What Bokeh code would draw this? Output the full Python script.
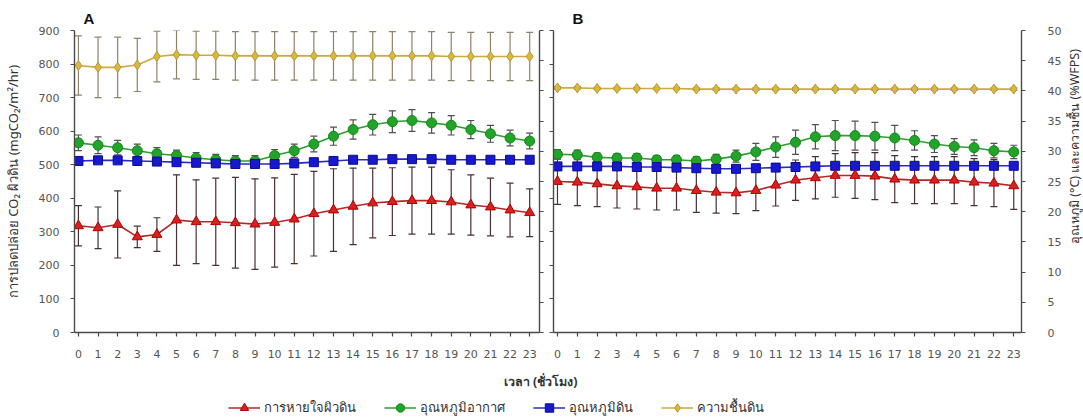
import math
from bokeh.plotting import figure
from bokeh.models import (Range1d, LinearAxis, FixedTicker, Whisker, TeeHead,
                          ColumnDataSource, Label, Legend, LegendItem)
from bokeh.layouts import column, row
from bokeh.embed import file_html
from bokeh.resources import INLINE

# ---------------- data ----------------
hours = list(range(24))
hour_ticks = list(range(24))
co2_ticks = [0, 100, 200, 300, 400, 500, 600, 700, 800, 900]
temp_ticks = [0, 5, 10, 15, 20, 25, 30, 35, 40, 45, 50]

series_names = ["การหายใจผิวดิน", "อุณหภูมิอากาศ", "อุณหภูมิดิน", "ความชื้นดิน"]
y_title_left = "การปลดปล่อย CO₂ ผิวดิน (mgCO₂/m²/hr)"
y_title_right = "อุณหภูมิ (°C) และความชื้น (%WFPS)"
x_title = "เวลา (ชั่วโมง)"

# Panel A
a_resp = [318, 312, 322, 285, 292, 335, 330, 330, 327, 323, 328, 338,
          354, 365, 376, 386, 390, 393, 393, 389, 380, 374, 365, 357]
a_resp_err = [60, 62, 100, 32, 50, 135, 125, 130, 135, 135, 133, 133,
              126, 123, 114, 104, 101, 100, 100, 96, 90, 86, 80, 71]
a_air = [31.4, 31.0, 30.6, 30.1, 29.6, 29.3, 28.9, 28.6, 28.4, 28.4, 29.3, 30.1,
         31.2, 32.5, 33.6, 34.4, 34.9, 35.1, 34.7, 34.3, 33.6, 32.9, 32.2, 31.7]
a_air_err = [1.3, 1.4, 1.2, 1.1, 1.0, 0.9, 0.9, 0.9, 0.9, 0.9, 1.0, 1.1,
             1.3, 1.5, 1.6, 1.7, 1.8, 1.8, 1.7, 1.6, 1.5, 1.4, 1.3, 1.3]
a_soil = [28.4, 28.5, 28.5, 28.4, 28.3, 28.2, 28.1, 28.0, 27.9, 27.9, 27.9, 28.0,
          28.2, 28.4, 28.6, 28.6, 28.7, 28.7, 28.7, 28.6, 28.6, 28.6, 28.6, 28.6]
a_soil_err = [0.3, 0.3, 0.3, 0.3, 0.3, 0.3, 0.3, 0.3, 0.3, 0.3, 0.3, 0.3,
              0.3, 0.3, 0.3, 0.3, 0.3, 0.3, 0.3, 0.3, 0.3, 0.3, 0.3, 0.3]
a_moist = [44.2, 43.9, 43.9, 44.3, 45.7, 46.0, 45.9, 45.9, 45.8, 45.8, 45.8, 45.8,
           45.8, 45.8, 45.8, 45.8, 45.8, 45.8, 45.8, 45.7, 45.7, 45.7, 45.7, 45.7]
a_moist_err = [4.9, 5.0, 5.0, 4.4, 4.2, 4.0, 4.0, 4.0, 4.0, 4.0, 4.0, 4.0,
               4.0, 4.0, 4.0, 4.0, 4.0, 4.0, 4.0, 4.0, 4.0, 4.0, 4.0, 4.0]

# Panel B
b_resp = [450, 448, 443, 437, 434, 430, 430, 423, 418, 416, 423, 439,
          454, 461, 468, 468, 466, 457, 454, 454, 454, 448, 445, 437]
b_resp_err = [68, 70, 68, 66, 66, 65, 65, 65, 62, 62, 60, 62,
              60, 63, 65, 68, 70, 70, 70, 70, 70, 70, 70, 70]
b_air = [29.5, 29.4, 29.0, 28.9, 28.9, 28.6, 28.6, 28.4, 28.7, 29.2, 29.9, 30.7,
         31.5, 32.4, 32.6, 32.6, 32.5, 32.2, 31.8, 31.2, 30.8, 30.6, 30.1, 29.9]
b_air_err = [0.8, 0.8, 0.7, 0.7, 0.7, 0.7, 0.7, 0.7, 0.8, 1.0, 1.4, 1.7,
             2.0, 2.0, 2.5, 2.4, 2.3, 2.1, 1.6, 1.4, 1.3, 1.3, 1.2, 1.1]
b_soil = [27.5, 27.5, 27.5, 27.5, 27.4, 27.4, 27.3, 27.2, 27.1, 27.1, 27.2, 27.3,
          27.4, 27.5, 27.6, 27.6, 27.6, 27.6, 27.6, 27.6, 27.6, 27.6, 27.6, 27.6]
b_soil_err = [0.5, 0.5, 0.5, 0.5, 0.5, 0.5, 0.5, 0.5, 0.5, 0.5, 0.5, 0.5,
              0.5, 0.5, 0.5, 0.5, 0.5, 0.5, 0.5, 0.5, 0.5, 0.5, 0.5, 0.5]
b_moist = [40.5, 40.5, 40.4, 40.4, 40.4, 40.4, 40.4, 40.3, 40.3, 40.3, 40.3, 40.3,
           40.3, 40.3, 40.3, 40.3, 40.3, 40.3, 40.3, 40.3, 40.3, 40.3, 40.3, 40.3]
b_moist_err = [0.2, 0.2, 0.2, 0.2, 0.2, 0.2, 0.2, 0.2, 0.2, 0.2, 0.2, 0.2,
               0.2, 0.2, 0.2, 0.2, 0.2, 0.2, 0.2, 0.2, 0.2, 0.2, 0.2, 0.2]

# ---------------- styles ----------------
STY = {
    "resp": dict(fill="#D92020", edge="#B00000", line="#B52828", bar="#4A3030", marker="triangle", size=10),
    "air": dict(fill="#22A32A", edge="#118818", line="#2E9E32", bar="#505050", marker="circle", size=10),
    "soil": dict(fill="#1818CC", edge="#0A0A9A", line="#2A2AC0", bar="#404040", marker="square", size=9),
    "moist": dict(fill="#D9B842", edge="#B89A2A", line="#CBAA3E", bar="#8C8468", marker="diamond", size=10),
}
AX = "#4a4a4a"
TICK_FONT = "DejaVu Sans"
THAI_FONT = "Noto Sans"

FRAME_H = 302
TOP = 30
BOTTOM = 34
FIG_H = TOP + FRAME_H + BOTTOM


def style_axis(ax, show_labels=True, standoff=6, ticks=None):
    ax.axis_line_color = AX
    ax.axis_line_width = 1.4
    ax.major_tick_line_color = AX
    ax.major_tick_line_width = 1.2
    ax.major_tick_in = 0
    ax.major_tick_out = 4
    ax.minor_tick_line_color = None
    ax.major_label_text_font = TICK_FONT
    ax.major_label_text_color = "#555555"
    ax.major_label_text_font_size = "11px"
    ax.major_label_standoff = standoff
    ax.axis_label_text_font = THAI_FONT
    ax.axis_label_text_font_style = "normal"
    ax.axis_label_text_font_size = "13px"
    ax.axis_label_text_color = "#333333"
    if not show_labels:
        ax.major_label_overrides = {t: "" for t in ticks}
        ax.major_label_standoff = 0


def add_series(fig, y, err, key, range_name):
    s = STY[key]
    src = ColumnDataSource(dict(x=hours, y=y,
                                upper=[v + e for v, e in zip(y, err)],
                                lower=[v - e for v, e in zip(y, err)]))
    w = Whisker(source=src, base="x", upper="upper", lower="lower",
                line_color=s["bar"], line_width=1.2,
                upper_head=TeeHead(size=7, line_color=s["bar"], line_width=1.2),
                lower_head=TeeHead(size=7, line_color=s["bar"], line_width=1.2),
                y_range_name=range_name)
    fig.add_layout(w)
    fig.line("x", "y", source=src, line_color=s["line"], line_width=1.6, y_range_name=range_name)
    fig.scatter("x", "y", source=src, marker=s["marker"], size=s["size"],
                fill_color=s["fill"], line_color=s["edge"], line_width=1, y_range_name=range_name)


def make_panel(width, border_left, border_right, x_end, letter, letter_offset):
    p = figure(width=width, height=FIG_H,
               x_range=Range1d(-0.2, x_end), y_range=Range1d(0, 900),
               output_backend="svg", toolbar_location=None,
               min_border_left=border_left, min_border_right=border_right,
               min_border_top=TOP, min_border_bottom=BOTTOM)
    p.extra_y_ranges = {"temp": Range1d(0, 50)}
    p.outline_line_color = None
    p.xgrid.visible = False
    p.ygrid.visible = False
    p.title.text = letter
    p.title.align = "left"
    p.title.offset = letter_offset
    p.title.standoff = 7
    p.title.text_font = "Liberation Sans"
    p.title.text_font_style = "bold"
    p.title.text_font_size = "15px"
    p.title.text_color = "#111111"
    p.xaxis.ticker = FixedTicker(ticks=hour_ticks)
    style_axis(p.xaxis[0], True, 13)
    p.yaxis.ticker = FixedTicker(ticks=co2_ticks)
    return p


# ---------------- panel A ----------------
pa = make_panel(546, 73, 7, 23.5, "A", 9)
style_axis(pa.yaxis[0], True, 11)
pa.yaxis[0].axis_label = y_title_left
pa.yaxis[0].axis_label_standoff = 14
ra = LinearAxis(y_range_name="temp", ticker=FixedTicker(ticks=temp_ticks))
style_axis(ra, False, ticks=temp_ticks)
pa.add_layout(ra, "right")
add_series(pa, a_moist, a_moist_err, "moist", "temp")
add_series(pa, a_air, a_air_err, "air", "temp")
add_series(pa, a_soil, a_soil_err, "soil", "temp")
add_series(pa, a_resp, a_resp_err, "resp", "default")

# ---------------- panel B ----------------
pb = make_panel(519, 7, 44, 23.39, "B", 19)
style_axis(pb.yaxis[0], False, ticks=co2_ticks)
rb = LinearAxis(y_range_name="temp", ticker=FixedTicker(ticks=temp_ticks))
style_axis(rb, True, 22)
pb.add_layout(rb, "right")
add_series(pb, b_moist, b_moist_err, "moist", "temp")
add_series(pb, b_air, b_air_err, "air", "temp")
add_series(pb, b_soil, b_soil_err, "soil", "temp")
add_series(pb, b_resp, b_resp_err, "resp", "default")

# ---------------- right-hand axis title strip ----------------
pr = figure(width=18, height=FIG_H, x_range=Range1d(0, 1), y_range=Range1d(0, 1),
            x_axis_type=None, y_axis_type=None, output_backend="svg",
            toolbar_location=None, min_border=0)
pr.outline_line_color = None
pr.add_layout(Label(x=9, y=FIG_H - 180, x_units="screen", y_units="screen",
                    text=y_title_right, angle=math.pi / 2,
                    text_align="center", text_baseline="middle",
                    text_font=THAI_FONT, text_font_size="12.5px", text_color="#333333"))

# ---------------- bottom: x title + legend ----------------
# the legend samples reuse the real series, placed far outside this strip's ranges
pl = figure(width=1083, height=52, x_range=Range1d(1000, 2000), y_range=Range1d(1000, 2000),
            x_axis_type=None, y_axis_type=None, output_backend="svg",
            toolbar_location=None, min_border=0)
pl.outline_line_color = None
pl.add_layout(Label(x=540, y=37, x_units="screen", y_units="screen",
                    text=x_title, text_align="center", text_baseline="middle",
                    text_font=THAI_FONT, text_font_size="12.5px", text_font_style="bold",
                    text_color="#333333"))
items = []
for key, name, ys in zip(["resp", "air", "soil", "moist"], series_names,
                         [a_resp, a_air, a_soil, a_moist]):
    s = STY[key]
    lr = pl.line(x=hours, y=ys, line_color=s["line"], line_width=1.6)
    sr = pl.scatter(x=hours, y=ys, marker=s["marker"], fill_color=s["fill"],
                    line_color=s["edge"], line_width=1)
    items.append(LegendItem(label=name, renderers=[lr, sr]))
leg = Legend(items=items, orientation="horizontal", location=(228, 0),
             glyph_width=32, glyph_height=21, label_height=14, label_standoff=4,
             spacing=28, padding=0, margin=0, border_line_color=None,
             background_fill_alpha=0, label_text_font=THAI_FONT,
             label_text_font_size="13px", label_text_color="#333333")
pl.add_layout(leg)

layout = column(row(pa, pb, pr), pl)
open("out.html", "w").write(file_html(layout, INLINE))
